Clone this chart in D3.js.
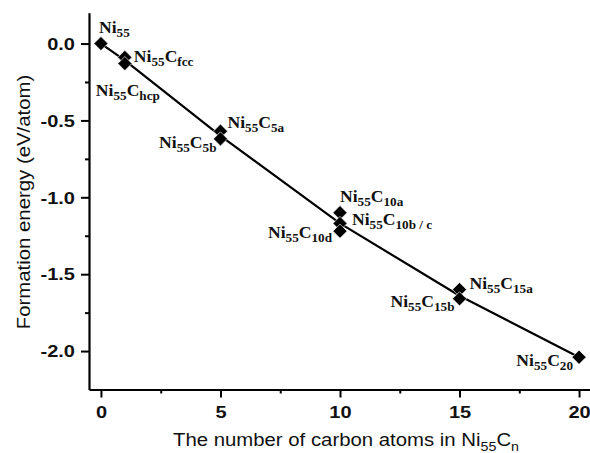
<!DOCTYPE html>
<html>
<head>
<meta charset="utf-8">
<script src="https://cdn.jsdelivr.net/npm/d3@7"></script>
<style>
  body { margin: 0; background: #fff; }
  svg { display: block; }
</style>
</head>
<body>
<div id="chart"></div>
<script>
// carbon atoms (n) and formation energy (eV/atom) of each structure
var carbonCount = [0, 1, 1, 5, 5, 10, 10, 10, 15, 15, 20];
var formationEnergy = [0.0, -0.09, -0.13, -0.57, -0.62, -1.10, -1.17, -1.22, -1.60, -1.66, -2.04];
// label suffix after "Ni55C" (null = plain Ni55)
var structureSuffix = [null, "fcc", "hcp", "5a", "5b", "10a", "10b / c", "10d", "15a", "15b", "20"];

// guide line through the structures
var lineCount = [0, 1, 5, 10, 15, 20];
var lineEnergy = [0.0, -0.11, -0.60, -1.17, -1.64, -2.04];

var xTicks = [0, 5, 10, 15, 20];
var yTicks = [0.0, -0.5, -1.0, -1.5, -2.0];

// label placement next to the marker: offset and anchor
var labelPlace = [
  { dx: -2, dy: -11, anchor: "start" },
  { dx: 9, dy: 5, anchor: "start" },
  { dx: -29, dy: 32, anchor: "start" },
  { dx: 7, dy: -3, anchor: "start" },
  { dx: -4, dy: 9, anchor: "end" },
  { dx: 0, dy: -11, anchor: "start" },
  { dx: 12, dy: 2, anchor: "start" },
  { dx: -8, dy: 7, anchor: "end" },
  { dx: 10, dy: -1, anchor: "start" },
  { dx: -5, dy: 8, anchor: "end" },
  { dx: -6, dy: 9, anchor: "end" }
];

var width = 590;
var height = 453;

var svg = d3.select("#chart")
  .append("svg")
  .attr("width", width)
  .attr("height", height);

// scales
var xScale = d3.scaleLinear()
  .domain([-0.5, 20.5])
  .range([89, 591]);

var yScale = d3.scaleLinear()
  .domain([-2.25, 0.2])
  .range([389.5, 12.8]);

// minor ticks first so majors draw on top
svg.append("g")
  .attr("transform", "translate(0," + yScale(-2.25) + ")")
  .call(d3.axisBottom(xScale).tickValues([2.5, 7.5, 12.5, 17.5]).tickSize(4).tickFormat(""))
  .call(function(g) { g.select(".domain").remove(); })
  .selectAll("line").attr("stroke-width", 2);

svg.append("g")
  .attr("transform", "translate(" + xScale(-0.5) + ",0)")
  .call(d3.axisLeft(yScale).tickValues([-0.25, -0.75, -1.25, -1.75]).tickSize(4).tickFormat(""))
  .call(function(g) { g.select(".domain").remove(); })
  .selectAll("line").attr("stroke-width", 2);

// plain hyphen for negatives, like the original
var yFormat = function(d) { return d3.format(".1f")(d).replace("\u2212", "-"); };

// x axis
var xAxis = svg.append("g")
  .attr("class", "x axis")
  .attr("transform", "translate(0," + yScale(-2.25) + ")")
  .call(d3.axisBottom(xScale).tickValues(xTicks).tickSize(8).tickSizeOuter(0).tickFormat(d3.format("d")));

// y axis
var yAxis = svg.append("g")
  .attr("class", "y axis")
  .attr("transform", "translate(" + xScale(-0.5) + ",0)")
  .call(d3.axisLeft(yScale).tickValues(yTicks).tickSize(8).tickSizeOuter(0).tickFormat(yFormat));

svg.selectAll(".axis .domain").attr("stroke-width", 2.2);
svg.selectAll(".axis .tick line").attr("stroke-width", 2);

// tick labels: bold sans, a bit stretched like the original
svg.selectAll(".axis text")
  .style("font-family", "Liberation Sans, Arial, sans-serif")
  .style("font-weight", "bold")
  .style("font-size", "16px")
  .attr("fill", "#111");

xAxis.selectAll("text")
  .attr("y", 0)
  .attr("dy", 0)
  .attr("transform", "translate(0,28) scale(1.25,1)");

yAxis.selectAll("text")
  .attr("x", 0)
  .attr("dy", "0.36em")
  .attr("transform", "translate(-14,0) scale(1.25,1)");

// guide line
var line = d3.line()
  .x(function(d, i) { return xScale(lineCount[i]); })
  .y(function(d, i) { return yScale(lineEnergy[i]); });

svg.append("path")
  .datum(lineCount)
  .attr("d", line)
  .attr("fill", "none")
  .attr("stroke", "#000")
  .attr("stroke-width", 2.2);

// diamond markers
var diamond = d3.symbol().type(d3.symbolSquare).size(100);

svg.selectAll(".marker")
  .data(carbonCount)
  .enter()
  .append("path")
  .attr("class", "marker")
  .attr("d", diamond)
  .attr("transform", function(d, i) {
    return "translate(" + xScale(d) + "," + yScale(formationEnergy[i]) + ") rotate(45)";
  })
  .attr("fill", "#000")
  .attr("stroke", "#fff")
  .attr("stroke-width", 0.6);

// structure labels Ni55Cx in bold serif with subscripts
var labels = svg.selectAll(".label")
  .data(carbonCount)
  .enter()
  .append("text")
  .attr("class", "label")
  .attr("transform", function(d, i) {
    var x = xScale(d) + labelPlace[i].dx;
    var y = yScale(formationEnergy[i]) + labelPlace[i].dy;
    return "translate(" + x + "," + y + ") scale(1.1,1)";
  })
  .attr("text-anchor", function(d, i) { return labelPlace[i].anchor; })
  .style("font-family", "Liberation Serif, Times New Roman, serif")
  .style("font-weight", "bold")
  .style("font-size", "16px")
  .attr("fill", "#111");

labels.each(function(d, i) {
  var t = d3.select(this);
  t.append("tspan").text("Ni");
  t.append("tspan").attr("font-size", "12px").attr("dy", 4).text("55");
  if (structureSuffix[i] !== null) {
    t.append("tspan").attr("dy", -4).text("C");
    t.append("tspan").attr("font-size", "12px").attr("dy", 4).text(structureSuffix[i]);
  }
});

// axis titles
var xTitle = svg.append("text")
  .attr("transform", "translate(346,446) scale(1.1,1)")
  .attr("text-anchor", "middle")
  .style("font-family", "Liberation Sans, Arial, sans-serif")
  .style("font-size", "18.5px")
  .attr("fill", "#111");
xTitle.append("tspan").text("The number of carbon atoms in Ni");
xTitle.append("tspan").attr("font-size", "13px").attr("dy", 5).text("55");
xTitle.append("tspan").attr("dy", -5).text("C");
xTitle.append("tspan").attr("font-size", "13px").attr("dy", 5).text("n");

svg.append("text")
  .attr("transform", "translate(30,202) rotate(-90) scale(1.1,1)")
  .attr("text-anchor", "middle")
  .style("font-family", "Liberation Sans, Arial, sans-serif")
  .style("font-size", "18.5px")
  .attr("fill", "#111")
  .text("Formation energy (eV/atom)");
</script>
</body>
</html>
